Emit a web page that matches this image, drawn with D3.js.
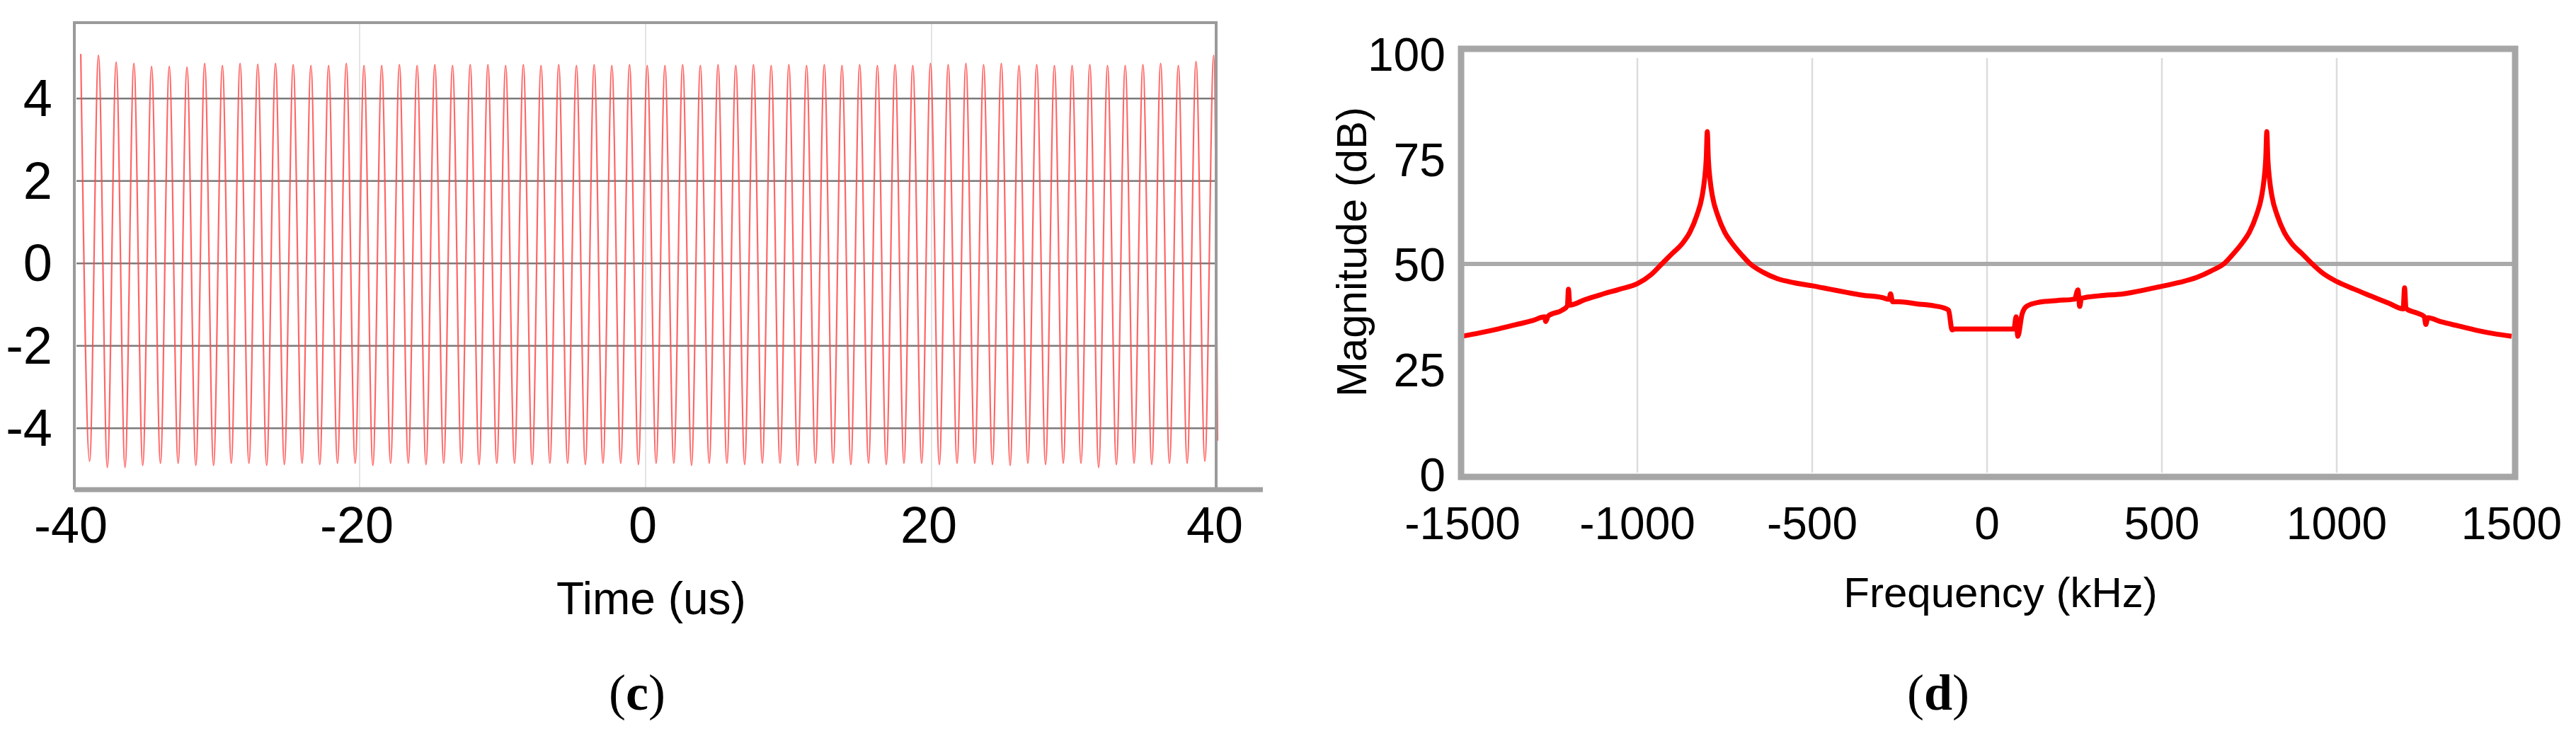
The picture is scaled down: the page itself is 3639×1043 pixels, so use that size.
<!DOCTYPE html>
<html><head><meta charset="utf-8">
<script src="https://cdn.jsdelivr.net/npm/d3@7"></script>
<style>body{margin:0;background:#fff}text{font-family:"Liberation Sans",Arial,sans-serif}</style>
</head><body>
<svg id="fig" width="3639" height="1043"></svg>
<script>
// (c) time signal: crest and trough amplitudes, one per half period
var crestAmps = [5.08,5.05,4.88,4.85,4.78,4.78,4.76,4.85,4.8,4.85,4.83,4.85,4.82,4.8,4.8,4.85,4.8,4.8,4.82,4.8,4.82,4.8,4.82,4.82,4.8,4.82,4.8,4.82,4.8,4.82,4.8,4.82,4.8,4.8,4.82,4.8,4.82,4.8,4.82,4.8,4.82,4.8,4.82,4.8,4.82,4.8,4.82,4.8,4.85,4.82,4.85,4.82,4.85,4.8,4.82,4.8,4.8,4.82,4.8,4.8,4.82,4.85,4.8,4.9,5.05];
var troughAmps = [-4.8,-4.95,-4.95,-4.9,-4.85,-4.85,-4.9,-4.9,-4.85,-4.85,-4.9,-4.88,-4.85,-4.88,-4.85,-4.85,-4.9,-4.85,-4.85,-4.88,-4.85,-4.85,-4.88,-4.85,-4.85,-4.88,-4.85,-4.85,-4.88,-4.85,-4.85,-4.88,-4.85,-4.85,-4.9,-4.85,-4.85,-4.88,-4.85,-4.85,-4.9,-4.85,-4.85,-4.88,-4.85,-4.88,-4.85,-4.85,-4.88,-4.85,-4.85,-4.88,-4.9,-4.85,-4.88,-4.85,-4.85,-4.95,-4.88,-4.85,-4.88,-4.85,-4.85,-4.8];
var firstCrest = -39.5, halfPeriod = 0.619;
var timeTicks = [-40,-20,0,20,40];
var ampTicks = [-4,-2,0,2,4];

// (d) spectrum
var freqs = [-1500,-1450,-1400,-1350,-1300,-1265,-1262,-1255,-1215,-1200,-1197,-1193,-1150,-1100,-1050,-1000,-960,-930,-900,-870,-850,-830,-815,-808,-803,-800,-797,-792,-785,-770,-750,-730,-700,-681,-640,-600,-550,-500,-450,-400,-359,-300,-280,-276,-270,-250,-200,-150,-126,-110,-100,-93,0,77,83,88,100,113,150,200,250,260,265,270,320,391,450,495,550,600,640,681,700,730,750,770,785,792,797,800,803,808,815,830,850,870,900,930,960,1000,1050,1100,1150,1190,1194,1198,1230,1250,1255,1260,1300,1350,1400,1450,1500];
var mags = [32.8,33.6,34.5,35.5,36.5,37.4,36.3,37.6,39,40,44,40.2,41.5,42.8,44,45.3,47.5,50,52.5,55,57.5,61.5,66,70,75,81.5,75,70,66,61.5,57.5,55,52,50.3,48,46.5,45.5,44.8,44,43.2,42.6,42,41.6,42.9,41,41,40.5,40,39.6,39,34.3,34.5,34.5,34.5,37.4,32.8,38,39.9,40.9,41.3,41.6,43.8,39.9,41.8,42.4,42.9,43.8,44.6,45.6,46.8,48.3,50.3,52,55,57.5,61.5,66,70,75,81.5,75,70,66,61.5,57.5,55,52.5,50,47.8,45.8,44,42.3,40.6,39.3,44.3,39.4,38.3,37.5,35.6,37.2,36.2,35.2,34.2,33.4,32.8];
var freqTicks = [-1500,-1000,-500,0,500,1000,1500];
var magTicks = [0,25,50,75,100];

var svg = d3.select("#fig");

// ---------- (c) ----------
var xT = d3.scaleLinear().domain([-40,40]).range([104,1720]);
var yT = d3.scaleLinear().domain([-5.49,5.84]).range([692,32]);
var gc = svg.append("g");

gc.selectAll(".vg").data(timeTicks.slice(1,4)).enter().append("line")
  .attr("x1", d => xT(d)).attr("x2", d => xT(d)).attr("y1", 32).attr("y2", 692)
  .attr("stroke", "#e4e4e4").attr("stroke-width", 2);
gc.selectAll(".hg").data(ampTicks).enter().append("line")
  .attr("x1", 108).attr("x2", 1718).attr("y1", d => yT(d)).attr("y2", d => yT(d))
  .attr("stroke", "#7a7a7a").attr("stroke-width", 2.5);

var wave = [];
crestAmps.forEach(function(a, i) {
  wave.push([firstCrest + 2 * i * halfPeriod, a]);
  if (i < troughAmps.length) wave.push([firstCrest + (2 * i + 1) * halfPeriod, troughAmps[i]]);
});
wave.push([40, -4.3]);
gc.append("path").datum(wave)
  .attr("d", d3.line().x(d => xT(d[0])).y(d => yT(d[1])).curve(d3.curveMonotoneX))
  .attr("fill", "none").attr("stroke", "#ff4a4a").attr("stroke-width", 2.2).attr("opacity", 0.85);

// frame
gc.append("path").attr("d", "M105,692V32H1718V692").attr("fill", "none").attr("stroke", "#9a9a9a").attr("stroke-width", 4);
gc.append("line").attr("x1", 105).attr("x2", 1784).attr("y1", 692).attr("y2", 692).attr("stroke", "#a0a0a0").attr("stroke-width", 7);

gc.selectAll(".yl").data(ampTicks).enter().append("text")
  .attr("x", 74).attr("y", d => yT(d) + 25).attr("text-anchor", "end")
  .attr("font-size", 74).text(d => d);
gc.selectAll(".xl").data(timeTicks).enter().append("text")
  .attr("x", d => xT(d) - 4).attr("y", 767).attr("text-anchor", "middle")
  .attr("font-size", 72).text(d => d);
gc.append("text").attr("x", 920).attr("y", 868).attr("text-anchor", "middle").attr("font-size", 64).text("Time (us)");
gc.append("text").attr("x", 900).attr("y", 1003).attr("text-anchor", "middle").attr("font-size", 72)
  .style("font-family", "Liberation Serif").html('(<tspan font-weight="bold">c</tspan>)');

// ---------- (d) ----------
var xF = d3.scaleLinear().domain([-1500,1500]).range([2066,3548]);
var yF = d3.scaleLinear().domain([0,100]).range([670,76]);
var gd = svg.append("g");

gd.selectAll(".vg").data(freqTicks.slice(1,6)).enter().append("line")
  .attr("x1", d => xF(d)).attr("x2", d => xF(d)).attr("y1", 82).attr("y2", 668)
  .attr("stroke", "#dcdcdc").attr("stroke-width", 2.5);
gd.append("line").attr("x1", 2066).attr("x2", 3550).attr("y1", yF(50)).attr("y2", yF(50))
  .attr("stroke", "#aaaaaa").attr("stroke-width", 6);

gd.append("path").datum(d3.zip(freqs, mags))
  .attr("d", d3.line().x(d => xF(d[0])).y(d => yF(d[1])).curve(d3.curveMonotoneX))
  .attr("fill", "none").attr("stroke", "#ff0000").attr("stroke-width", 7).attr("stroke-linejoin", "round");

gd.append("rect").attr("x", 2064).attr("y", 69).attr("width", 1489).attr("height", 605)
  .attr("fill", "none").attr("stroke", "#a6a6a6").attr("stroke-width", 9);

gd.selectAll(".yl").data(magTicks).enter().append("text")
  .attr("x", 2042).attr("y", d => yF(d) + 24).attr("text-anchor", "end")
  .attr("font-size", 66).text(d => d);
gd.selectAll(".xl").data(freqTicks).enter().append("text")
  .attr("x", d => xF(d)).attr("y", 762).attr("text-anchor", "middle")
  .attr("font-size", 64).text(d => d);
gd.append("text").attr("x", 2826).attr("y", 858).attr("text-anchor", "middle").attr("font-size", 60).text("Frequency (kHz)");
gd.append("text").attr("transform", "translate(1930,356) rotate(-90)").attr("text-anchor", "middle")
  .attr("font-size", 60).text("Magnitude (dB)");
gd.append("text").attr("x", 2738).attr("y", 1003).attr("text-anchor", "middle").attr("font-size", 72)
  .style("font-family", "Liberation Serif").html('(<tspan font-weight="bold">d</tspan>)');
</script>
</body></html>
